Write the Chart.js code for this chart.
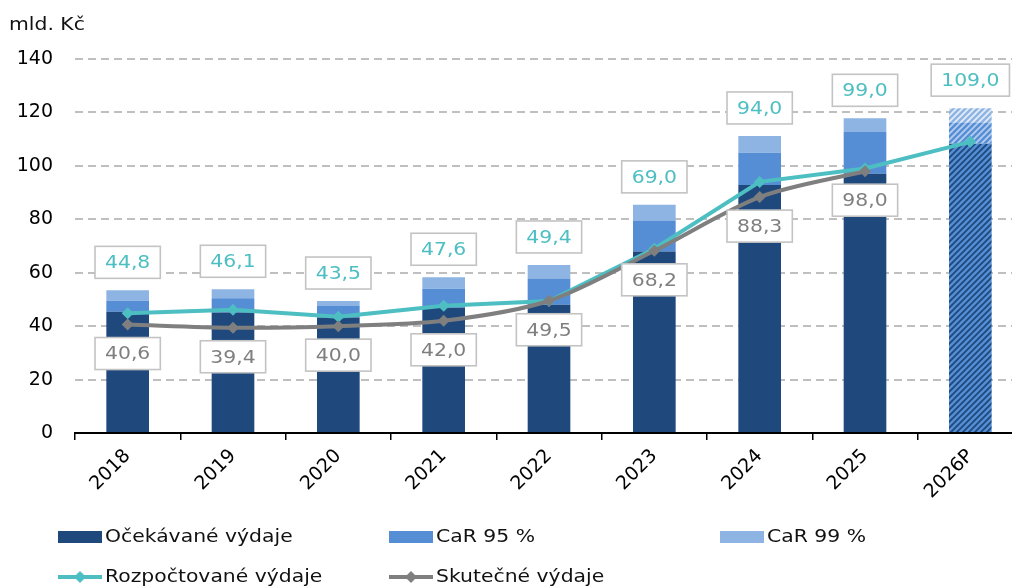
<!DOCTYPE html>
<html>
<head>
<meta charset="utf-8">
<script src="https://cdn.jsdelivr.net/npm/chart.js@4.4.1/dist/chart.umd.min.js"></script>
<style>
html,body{margin:0;padding:0;background:#fff;overflow:hidden;width:1012px;height:587px;}
#wrap{width:1012px;height:587px;overflow:hidden;position:relative;}
canvas{display:block;}
</style>
</head>
<body>
<div id="wrap"><canvas id="c" width="1029" height="587"></canvas></div>
<script>
// ---- data ----
const categories = ['2018','2019','2020','2021','2022','2023','2024','2025','2026P'];
const expected = [45.4, 45.1, 43.2, 46.9, 48.0, 67.9, 92.8, 97.0, 108.3];   // Očekávané výdaje
const car95    = [4.1, 5.3, 4.3, 7.1, 9.8, 11.6, 12.1, 15.7, 7.9];          // CaR 95 % (segment)
const car99    = [3.9, 3.4, 1.9, 4.3, 5.1, 5.9, 6.3, 5.1, 5.4];            // CaR 99 % (segment)
const budgeted = [44.8, 46.1, 43.5, 47.6, 49.4, 69.0, 94.0, 99.0, 109.0];  // Rozpočtované výdaje
const actual   = [40.6, 39.4, 40.0, 42.0, 49.5, 68.2, 88.3, 98.0, null];   // Skutečné výdaje
const yTicks = [0, 20, 40, 60, 80, 100, 120, 140];
const yUnit = 'mld. Kč';

// ---- styles ----
const C_DARK = '#1F497D', C_MID = '#558ED5', C_LIGHT = '#8DB4E2';
const C_TEAL = '#4DBEC2', C_GRAY = '#7F7F7F';
const FONT = '"DejaVu Sans", Verdana, sans-serif';
const forecastIndex = categories.indexOf('2026P');

function stripe(bg, fg) {
  const s = 6, cv = document.createElement('canvas');
  cv.width = s; cv.height = s;
  const x = cv.getContext('2d');
  x.fillStyle = bg; x.fillRect(0, 0, s, s);
  x.strokeStyle = fg; x.lineWidth = 2.4; x.beginPath();
  for (const o of [-s, 0, s]) { x.moveTo(o - 1, s + 1); x.lineTo(o + s + 1, -1); }
  x.stroke();
  return x.createPattern(cv, 'repeat');
}
const ctx = document.getElementById('c').getContext('2d');
const P_DARK = stripe(C_DARK, C_MID);
const P_MID = stripe('#B4CCEE', C_MID);
const P_LIGHT = stripe('#E2EBF7', C_LIGHT);
const fillFor = (solid, pat) => (c) => c.dataIndex === forecastIndex ? pat : solid;

function drawText(c, txt, x, y, color, align) {
  c.save();
  c.font = '18.5px ' + FONT;
  c.fillStyle = color; c.textBaseline = 'middle'; c.textAlign = align || 'left';
  c.translate(x, y); c.scale(1.1, 1);
  c.fillText(txt, 0, 0);
  c.restore();
}
function textW(c, txt) { c.save(); c.font = '18.5px ' + FONT; const w = c.measureText(txt).width * 1.1; c.restore(); return w; }

const fmt = v => v.toFixed(1).replace('.', ',');

const labelPlugin = {
  id: 'labels',
  afterDatasetsDraw(chart) {
    const c = chart.ctx;
    const topMeta = chart.getDatasetMeta(2);
    const budMeta = chart.getDatasetMeta(3);
    const actMeta = chart.getDatasetMeta(4);
    function box(txt, cx, cy, color) {
      const w = textW(c, txt) + 20, h = 32;
      c.save();
      c.fillStyle = '#fff'; c.strokeStyle = '#C3C3C3'; c.lineWidth = 1.6;
      c.fillRect(cx - w / 2, cy - h / 2, w, h);
      c.strokeRect(cx - w / 2, cy - h / 2, w, h);
      c.restore();
      drawText(c, txt, cx, cy + 1, color, 'center');
    }
    budgeted.forEach((v, i) => {
      if (v == null) return;
      const bar = topMeta.data[i];
      box(fmt(v), budMeta.data[i].x, bar.y - 28, C_TEAL);
    });
    actual.forEach((v, i) => {
      if (v == null) return;
      const p = actMeta.data[i];
      box(fmt(v), p.x, p.y + 29, C_GRAY);
    });
  },
  afterDraw(chart) {
    const c = chart.ctx;
    drawText(c, yUnit, 9, 25, '#111');
    // legend
    const cols = [58, 389, 720], rows = [537, 577];
    [0, 1, 2, 3, 4].forEach((di, k) => {
      const d = chart.data.datasets[di];
      const x = cols[k % 3], y = rows[Math.floor(k / 3)];
      c.save();
      if (d.type === 'line') {
        c.strokeStyle = d.borderColor; c.lineWidth = 4;
        c.beginPath(); c.moveTo(x, y); c.lineTo(x + 44, y); c.stroke();
        c.fillStyle = d.borderColor;
        c.beginPath(); c.moveTo(x + 22, y - 6); c.lineTo(x + 28, y); c.lineTo(x + 22, y + 6); c.lineTo(x + 16, y); c.closePath(); c.fill();
      } else {
        c.fillStyle = d.legendColor;
        c.fillRect(x, y - 6, 44, 12);
      }
      c.restore();
      drawText(c, d.label, x + 47, y, '#111');
    });
  }
};

new Chart(ctx, {
  data: {
    labels: categories,
    datasets: [
      { type: 'bar', label: 'Očekávané výdaje', data: expected, backgroundColor: fillFor(C_DARK, P_DARK), legendColor: C_DARK, stack: 's', order: 3 },
      { type: 'bar', label: 'CaR 95 %', data: car95, backgroundColor: fillFor(C_MID, P_MID), legendColor: C_MID, stack: 's', order: 3 },
      { type: 'bar', label: 'CaR 99 %', data: car99, backgroundColor: fillFor(C_LIGHT, P_LIGHT), legendColor: C_LIGHT, stack: 's', order: 3 },
      { type: 'line', label: 'Rozpočtované výdaje', data: budgeted, stack: 'l1', borderColor: C_TEAL, backgroundColor: C_TEAL, borderWidth: 4,
        pointStyle: 'rectRot', pointRadius: 6, pointHoverRadius: 6, pointBorderWidth: 0, tension: 0, order: 1 },
      { type: 'line', label: 'Skutečné výdaje', data: actual, stack: 'l2', borderColor: C_GRAY, backgroundColor: C_GRAY, borderWidth: 4,
        pointStyle: 'rectRot', pointRadius: 6, pointHoverRadius: 6, pointBorderWidth: 0, tension: 0.3, order: 0 }
    ]
  },
  options: {
    responsive: false,
    animation: false,
    devicePixelRatio: 1,
    layout: { padding: { top: 59, left: 0, right: 0, bottom: 0 } },
    plugins: { legend: { display: false }, tooltip: { enabled: false } },
    datasets: { bar: { barPercentage: 0.405, categoryPercentage: 1 } },
    scales: {
      x: {
        stacked: true,
        grid: { display: true, drawOnChartArea: false, drawTicks: true, tickLength: 7, color: '#000', lineWidth: 1.5, offset: true },
        border: { display: true, color: '#000', width: 2 },
        ticks: { color: '#000', font: { family: FONT, size: 19 }, maxRotation: 45, minRotation: 45, padding: 5 },
        afterFit(s) { s.height = 154; }
      },
      y: {
        stacked: true,
        min: 0, max: 140,
        afterBuildTicks(s) { s.ticks = yTicks.map(v => ({ value: v })); },
        grid: { drawTicks: false, color: c => c.tick.value === 0 ? 'rgba(0,0,0,0)' : '#BFBFBF', lineWidth: 2 },
        border: { display: false, dash: [8, 5] },
        ticks: { color: '#000', font: { family: FONT, size: 19 }, padding: 22 },
        afterFit(s) { s.width = 75; }
      }
    }
  },
  plugins: [labelPlugin]
});
</script>
</body>
</html>
